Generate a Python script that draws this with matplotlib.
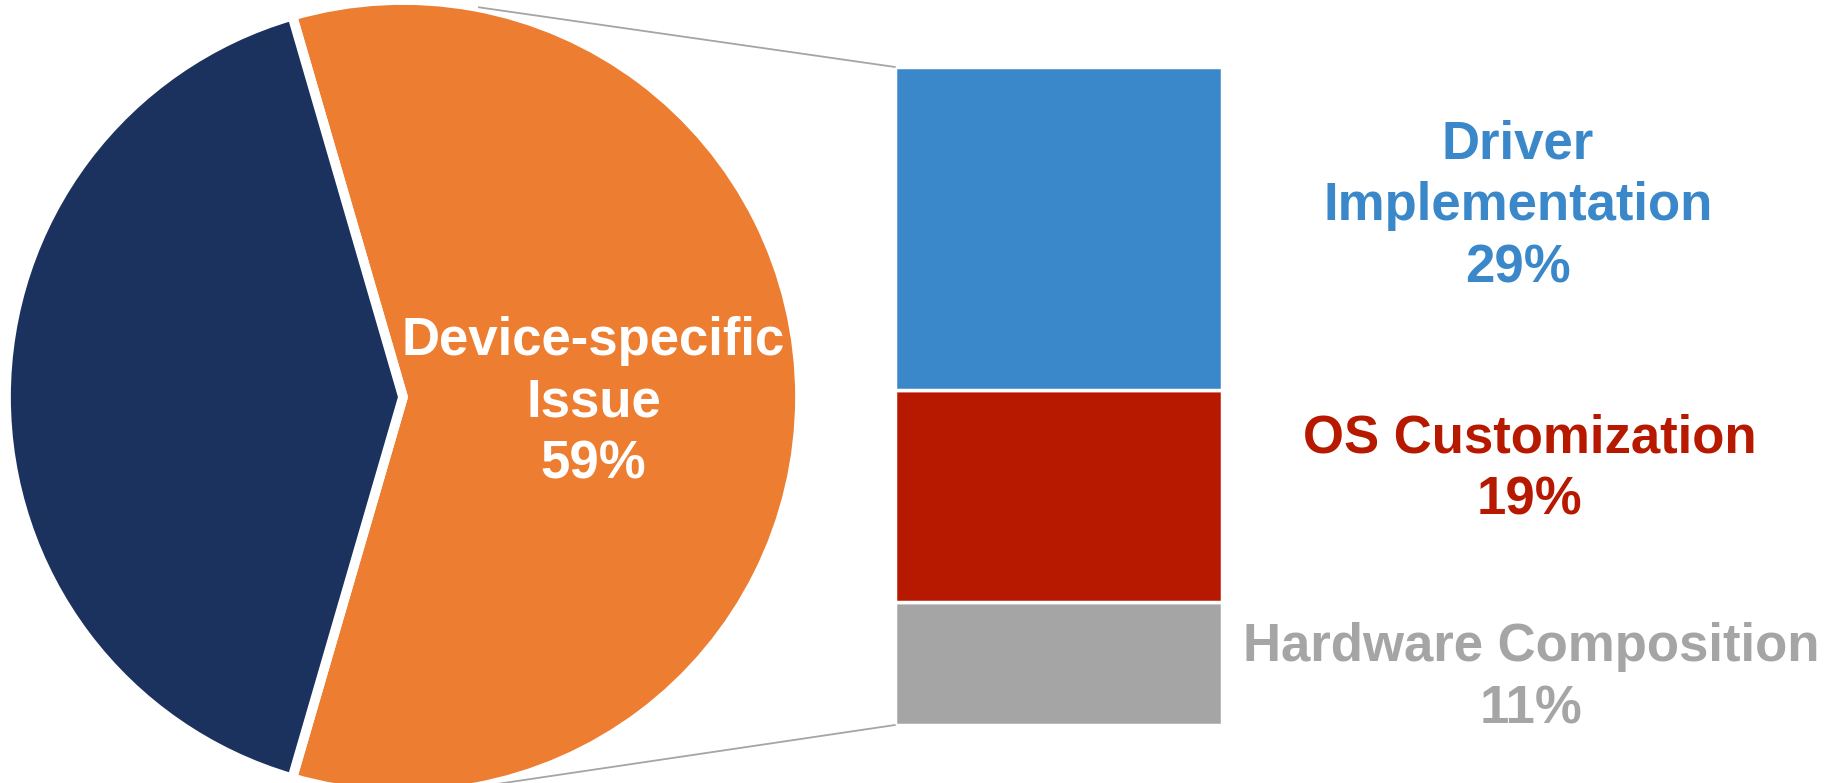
import numpy as np
import matplotlib
matplotlib.use("Agg")
import matplotlib.pyplot as plt
from matplotlib.patches import ConnectionPatch

plt.rcParams['font.family'] = ['Liberation Sans', 'DejaVu Sans']

# --------------------------------------------
# DATA
# --------------------------------------------
pie_labels = ["Device-specific\nIssue\n59%", ""]
pie_values = [59, 41]
pie_colors = ["#ED7D31", "#1B325E"]

bar_labels = ["Hardware Composition\n11%", "OS Customization\n19%", "Driver\nImplementation\n29%"]
bar_values = [11, 19, 29]
bar_colors = ["#A5A5A5", "#B71900", "#3A88C9"]

W, H = 1841, 783
fig = plt.figure(figsize=(W / 100, H / 100), dpi=100)

# --------------------------------------------
# PIE (left)
# --------------------------------------------
cx, cy, r = 403, 397, 397
ax_pie = fig.add_axes([(cx - r) / W, (H - cy - r) / H, 2 * r / W, 2 * r / H])
start = -pie_values[0] / 100 * 360 / 2
ax_pie.pie(pie_values, colors=pie_colors, startangle=start, counterclock=True,
           radius=1.0, wedgeprops=dict(edgecolor="white", linewidth=7, joinstyle="miter"))
ax_pie.set_xlim(-1, 1)
ax_pie.set_ylim(-1, 1)
ax_pie.set_aspect("equal")
ax_pie.axis("off")
ax_pie.text(0.48, -0.014, pie_labels[0], color="white", fontsize=38, fontweight="bold",
            ha="center", va="center", linespacing=1.3)

# --------------------------------------------
# STACKED BAR (right)
# --------------------------------------------
bl, br, bt, bb = 895, 1222, 67, 725
ax_bar = fig.add_axes([bl / W, (H - bb) / H, (br - bl) / W, (bb - bt) / H])
bottom = 0
for v, c in zip(bar_values, bar_colors):
    ax_bar.bar(0.5, v, width=1.0, bottom=bottom, color=c, edgecolor="white", linewidth=2.5)
    bottom += v
total = sum(bar_values)
ax_bar.set_xlim(0, 1)
ax_bar.set_ylim(0, total)
ax_bar.axis("off")

# label positions (axes x, data y)
label_pos = [(1.945, 4.2), (1.94, 22.9), (1.905, 46.5)]
for (lx, ly), lab, c in zip(label_pos, bar_labels, bar_colors):
    ax_bar.text(lx, ly, lab, color=c, fontsize=38, fontweight="bold",
                ha="center", va="center", linespacing=1.3, clip_on=False)

# --------------------------------------------
# CONNECTOR LINES
# --------------------------------------------
for ang, yb in [(79, total), (-79, 0)]:
    p = (np.cos(np.radians(ang)), np.sin(np.radians(ang)))
    con = ConnectionPatch(xyA=p, coordsA=ax_pie.transData, xyB=(0, yb), coordsB=ax_bar.transData,
                          color="#A5A5A5", linewidth=1.3)
    fig.add_artist(con)

fig.savefig("out.png", dpi=100)
